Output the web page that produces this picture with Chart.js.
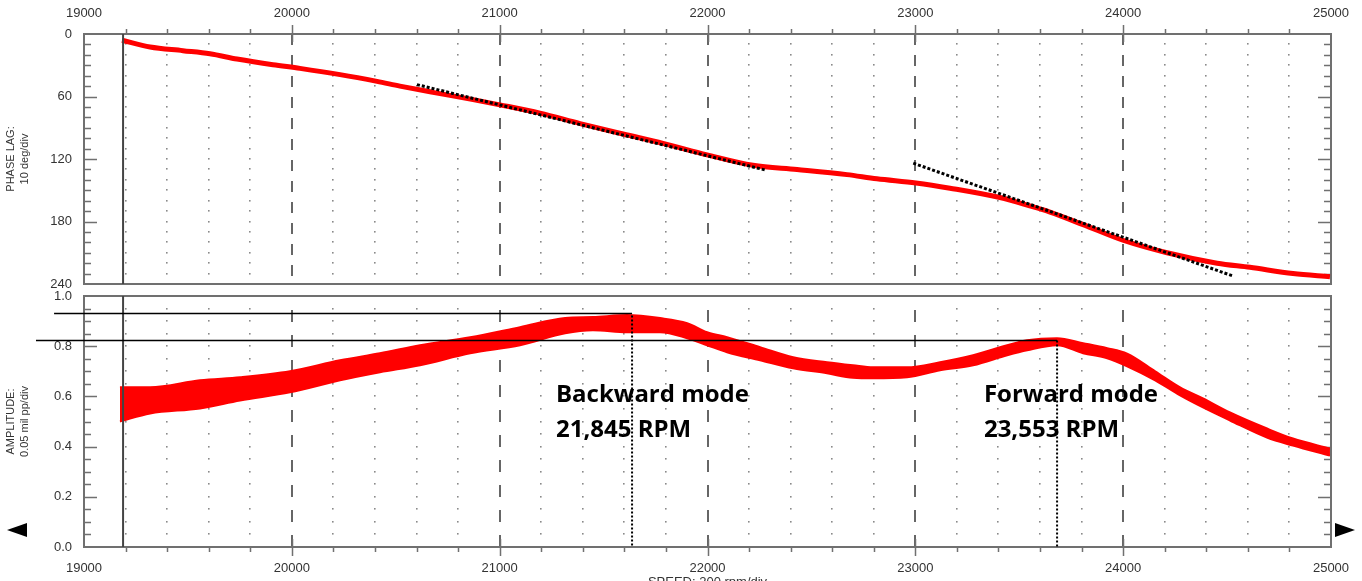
<!DOCTYPE html>
<html>
<head>
<meta charset="utf-8">
<script src="https://cdn.jsdelivr.net/npm/chart.js@4.4.1/dist/chart.umd.min.js"></script>
<style>
  html, body { margin: 0; padding: 0; width: 1362px; height: 581px; overflow: hidden; background: #fff; }
  canvas { position: absolute; left: 0; top: 0; }
  .arrow { position: absolute; width: 0; height: 0; border-top: 7px solid transparent; border-bottom: 7px solid transparent; }
</style>
</head>
<body>
<canvas id="phaseChart" width="1362" height="581"></canvas>
<canvas id="ampChart" width="1362" height="600"></canvas>
<div class="arrow" style="left:7px;top:523px;border-right:20px solid #000"></div>
<div class="arrow" style="left:1335px;top:523px;border-left:20px solid #000"></div>
<script>
// phase lag vs speed (rpm, deg)
const phaseSpeed = [19183, 19318, 19476, 19606, 19736, 19909, 20039, 20232, 20410, 20520, 20679, 20872,
  21001, 21194, 21387, 21594, 21786, 21998, 22219, 22431, 22671, 22815, 23003, 23167, 23407, 23550,
  23648, 23807, 23999, 24211, 24452, 24610, 24817, 24995];
const phaseLag = [6, 12.5, 16, 19, 24, 29.5, 33, 39, 45.5, 50, 56, 63,
  68, 76, 86, 96, 105, 116, 126, 130, 135, 139, 143, 148, 157, 165,
  171, 183, 198, 210, 220, 224, 230, 233];

// amplitude band vs speed (rpm, mil pp)
const ampSpeed = [19173, 19318, 19558, 19751, 19991, 20232, 20424, 20617, 20858, 21098, 21315, 21449,
  21613, 21772, 21902, 21998, 22094, 22253, 22412, 22575, 22700, 22797, 22960, 23119, 23278, 23442,
  23538, 23682, 23807, 23923, 24019, 24154, 24274, 24384, 24514, 24692, 24817, 24995];
const ampLow = [0.50, 0.532, 0.552, 0.584, 0.616, 0.664, 0.696, 0.724, 0.772, 0.804, 0.852, 0.864,
  0.856, 0.856, 0.832, 0.804, 0.776, 0.744, 0.712, 0.692, 0.674, 0.672, 0.676, 0.704, 0.724, 0.764,
  0.784, 0.804, 0.772, 0.752, 0.72, 0.664, 0.604, 0.556, 0.504, 0.436, 0.404, 0.364];
const ampHigh = [0.636, 0.636, 0.664, 0.676, 0.70, 0.744, 0.772, 0.804, 0.836, 0.876, 0.912, 0.916,
  0.924, 0.912, 0.892, 0.856, 0.836, 0.796, 0.756, 0.736, 0.724, 0.716, 0.716, 0.736, 0.764, 0.804,
  0.824, 0.832, 0.812, 0.792, 0.77, 0.70, 0.636, 0.592, 0.536, 0.472, 0.432, 0.392];

// slope guide lines on the phase plot
const tangentA = { speed: [20602, 22277], lag: [48.6, 130.5] };
const tangentB = { speed: [22990, 24524], lag: [124, 232] };

// run-up start marker and the two peak markers
const startSpeed = 19188;
const peakSpeed = [21637, 23682];
const peakLevel = [0.930, 0.823];
const peakLineFrom = [18856, 18769];

const noteLines = [['Backward mode', '21,845 RPM'], ['Forward mode', '23,553 RPM']];
const noteSpeed = [21271, 23330];
const noteLevel = [0.577, 0.44];

const xTicks = [19000, 20000, 21000, 22000, 23000, 24000, 25000];
const phaseTicks = [0, 60, 120, 180, 240];
const ampTicks = [0, 0.2, 0.4, 0.6, 0.8, 1.0];

const RED = '#ff0000';
const AXIS = '#707070';
const TEXT = '#333';

// draws frame, dotted grid, dashed major lines and the inward/outward tick marks
const panelGrid = {
  id: 'panelGrid',
  beforeDatasetsDraw(chart, args, opts) {
    const { ctx, chartArea: { left, top, right, bottom }, scales: { x, y } } = chart;
    ctx.save();
    const nx = Math.round((x.max - x.min) / opts.xMinor);
    const ny = Math.round((y.max - y.min) / opts.yMinor);
    const xRatio = opts.xMajor / opts.xMinor;
    // dots
    ctx.fillStyle = '#8a8a8a';
    for (let i = 1; i < nx; i++) {
      if (i % xRatio === 0) continue;
      const px = Math.round(x.getPixelForValue(x.min + i * opts.xMinor));
      for (let j = 1; j < ny; j++) {
        const py = Math.round(y.getPixelForValue(y.min + j * opts.yMinor));
        ctx.fillRect(px - 1, py - 1, 1.6, 1.6);
      }
    }
    // dashed majors
    ctx.strokeStyle = '#666';
    ctx.lineWidth = 2;
    ctx.setLineDash(opts.dash);
    ctx.lineDashOffset = opts.dashOffset;
    for (let i = xRatio; i < nx; i += xRatio) {
      const px = Math.round(x.getPixelForValue(x.min + i * opts.xMinor));
      ctx.beginPath();
      ctx.moveTo(px, top);
      ctx.lineTo(px, bottom);
      ctx.stroke();
    }
    ctx.setLineDash([]);
    // ticks
    ctx.strokeStyle = AXIS;
    ctx.lineWidth = 1.5;
    ctx.beginPath();
    for (let j = 1; j < ny; j++) {
      const py = Math.round(y.getPixelForValue(y.min + j * opts.yMinor)) + 0.5;
      const len = j % opts.yRatio === 0 ? 13 : 7;
      ctx.moveTo(left, py); ctx.lineTo(left + len, py);
      ctx.moveTo(right - len, py); ctx.lineTo(right, py);
    }
    const edge = opts.xEdge === 'top' ? top : bottom;
    const dir = opts.xEdge === 'top' ? -1 : 1;
    for (let i = 1; i < nx; i++) {
      const px = Math.round(x.getPixelForValue(x.min + i * opts.xMinor)) + 0.5;
      const major = i % xRatio === 0;
      ctx.moveTo(px, edge - dir * (major ? 8 : 0));
      ctx.lineTo(px, edge + dir * (major ? 9 : 5));
    }
    ctx.stroke();
    // frame
    ctx.lineWidth = 2;
    ctx.strokeRect(left, top, right - left, bottom - top);
    ctx.restore();
  },
  afterDatasetsDraw(chart, args, opts) {
    if (!opts.notes) return;
    const { ctx, scales: { x, y } } = chart;
    ctx.save();
    ctx.fillStyle = '#000';
    ctx.font = 'bold 24px "Open Sans", Lato, sans-serif';
    ctx.textBaseline = 'alphabetic';
    opts.notes.forEach((lines, k) => {
      const px = x.getPixelForValue(opts.noteSpeed[k]);
      lines.forEach((t, i) => {
        ctx.fillText(t, px, y.getPixelForValue(opts.noteLevel[i]));
      });
    });
    ctx.restore();
  },
};

const tickFont = { family: '"Liberation Sans", Arial, sans-serif', size: 13 };
const titleFont = { family: '"Liberation Sans Narrow", "Liberation Sans", Arial, sans-serif', size: 11, lineHeight: 1.25 };

function line(speed, vals, color, width, dash, clip) {
  return {
    data: speed.map((s, i) => ({ x: s, y: vals[i] })),
    borderColor: color,
    borderWidth: width,
    borderDash: dash || [],
    pointRadius: 0,
    fill: false,
    clip: clip === false ? false : undefined,
  };
}

function xScale(position, padding) {
  return {
    type: 'linear',
    position,
    min: 19000,
    max: 25000,
    afterBuildTicks: (s) => { s.ticks = xTicks.map((v) => ({ value: v })); },
    ticks: { color: TEXT, font: tickFont, padding, maxRotation: 0, autoSkip: false, callback: (v) => String(v) },
    grid: { display: false },
    border: { display: false },
  };
}

new Chart(document.getElementById('phaseChart'), {
  type: 'line',
  data: {
    datasets: [
      line(tangentA.speed, tangentA.lag, '#000', 3, [3, 2]),
      line(tangentB.speed, tangentB.lag, '#000', 3, [3, 2]),
      line([startSpeed, startSpeed], [0, 240], '#444', 2),
      { ...line(phaseSpeed, phaseLag, RED, 5), cubicInterpolationMode: 'monotone' },
    ],
  },
  options: {
    responsive: false,
    animation: false,
    layout: { padding: { top: 0, left: 0, right: 31, bottom: 297 } },
    plugins: {
      legend: { display: false },
      tooltip: { enabled: false },
      panelGrid: { xMinor: 200, xMajor: 1000, yMinor: 10, yRatio: 6, xEdge: 'top', dash: [11, 10], dashOffset: 0 },
    },
    scales: {
      x: { ...xScale('top', 5), afterFit: (s) => { s.height = 34; } },
      y: {
        type: 'linear',
        min: 0,
        max: 240,
        reverse: true,
        afterBuildTicks: (s) => { s.ticks = phaseTicks.map((v) => ({ value: v })); },
        afterFit: (s) => { s.width = 84; },
        ticks: { color: TEXT, font: tickFont, padding: 4 },
        grid: { display: false },
        border: { display: false },
        title: { display: true, text: ['PHASE LAG:', '10 deg/div'], color: TEXT, font: titleFont, padding: { top: 4, bottom: 0 } },
      },
    },
  },
  plugins: [panelGrid],
});

new Chart(document.getElementById('ampChart'), {
  type: 'line',
  data: {
    datasets: [
      line([peakLineFrom[0], peakSpeed[0]], [peakLevel[0], peakLevel[0]], '#000', 1.5, null, false),
      line([peakLineFrom[1], peakSpeed[1]], [peakLevel[1], peakLevel[1]], '#000', 1.5, null, false),
      line([peakSpeed[0], peakSpeed[0]], [peakLevel[0] - 0.008, 0], '#000', 2, [2, 2]),
      line([peakSpeed[1], peakSpeed[1]], [peakLevel[1], 0], '#000', 2, [2, 2]),
      line([startSpeed, startSpeed], [0, 1], '#444', 2),
      { ...line(ampSpeed, ampHigh, RED, 2), fill: '+1', backgroundColor: RED, cubicInterpolationMode: 'monotone' },
      { ...line(ampSpeed, ampLow, RED, 2), cubicInterpolationMode: 'monotone' },
    ],
  },
  options: {
    responsive: false,
    animation: false,
    layout: { padding: { top: 296, left: 0, right: 31, bottom: 10 } },
    plugins: {
      legend: { display: false },
      tooltip: { enabled: false },
      filler: { propagate: false },
      panelGrid: {
        xMinor: 200, xMajor: 1000, yMinor: 0.05, yRatio: 4, xEdge: 'bottom', dash: [12, 13], dashOffset: 11,
        notes: noteLines, noteSpeed, noteLevel,
      },
    },
    scales: {
      x: {
        ...xScale('bottom', 6),
        afterFit: (s) => { s.height = 43; },
        title: { display: true, text: 'SPEED: 200 rpm/div', color: TEXT, font: tickFont, padding: 0 },
      },
      y: {
        type: 'linear',
        min: 0,
        max: 1,
        afterBuildTicks: (s) => { s.ticks = ampTicks.map((v) => ({ value: v })); },
        afterFit: (s) => { s.width = 84; },
        ticks: { color: TEXT, font: tickFont, padding: 4, callback: (v) => v.toFixed(1) },
        grid: { display: false },
        border: { display: false },
        title: { display: true, text: ['AMPLITUDE:', '0.05 mil pp/div'], color: TEXT, font: titleFont, padding: { top: 4, bottom: 0 } },
      },
    },
  },
  plugins: [panelGrid],
});
</script>
</body>
</html>
